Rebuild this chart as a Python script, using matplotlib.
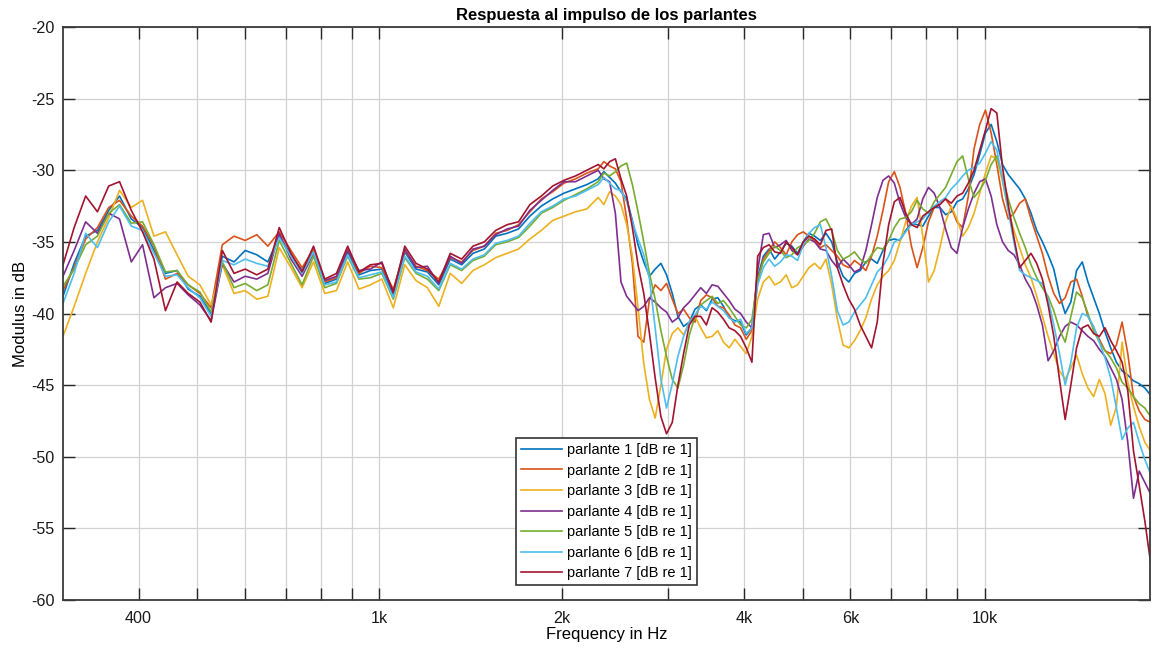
import numpy as np
import matplotlib
matplotlib.use("Agg")
import matplotlib.pyplot as plt
from matplotlib.ticker import FixedLocator, FixedFormatter, NullFormatter

plt.rcParams['font.family'] = ['Liberation Sans', 'DejaVu Sans']
plt.rcParams['axes.unicode_minus'] = False

# Analysis frequencies (1/16-octave steps from 300 Hz)
freq_hz = [300, 313, 327, 342, 357, 372, 389, 406, 424, 443, 463, 483, 505, 527,
           550, 575, 600, 627, 654, 683, 714, 745, 778, 812, 849, 886, 925, 966,
           1009, 1054, 1101, 1149, 1200, 1253, 1309, 1367, 1427, 1490, 1556, 1625,
           1697, 1772, 1851, 1933, 2018, 2108, 2201, 2298, 2400, 2506, 2617, 2733,
           2854, 2980, 3112, 3250, 3394, 3544, 3701, 3865, 4036, 4215, 4402, 4597,
           4800, 5013, 5235, 5466, 5708, 5961, 6225, 6501, 6789, 7089, 7403, 7731,
           8073, 8431, 8804, 9194, 9601, 10026, 10470, 10934, 11418, 11924, 12452,
           13003, 13578, 14180, 14807, 15463, 16147, 16862, 17609, 18388, 19200]

# Extra in-between frequencies above 2.3 kHz, where the responses are most ragged
freq_mid_hz = [2348, 2453, 2561, 2674, 2793, 2917, 3046,
               3180, 3321, 3468, 3622, 3782, 3950, 4124,
               4307, 4498, 4698, 4905, 5123, 5350, 5586,
               5833, 6092, 6361, 6643, 6938, 7244, 7565,
               7900, 8250, 8616, 8997, 9395, 9811, 10246,
               10699, 11173, 11668, 12185, 12725, 13288, 13875,
               14490, 15131, 15802, 16501, 17231, 17995, 18791]

# Magnitude of each loudspeaker response, dB re 1
parlante_1 = [-38.8, -36.5, -34.6, -34.2, -32.8, -31.8, -33.4, -34.0, -35.6, -37.2, -37.0, -38.3,
              -38.8, -40.0, -36.0, -36.4, -35.6, -35.9, -36.4, -34.6, -35.9, -37.0, -35.6, -37.9,
              -37.6, -35.7, -37.3, -37.0, -36.9, -38.7, -35.7, -36.9, -37.1, -38.0, -36.2, -36.6,
              -35.8, -35.5, -34.6, -34.4, -34.1, -33.2, -32.5, -32.0, -31.6, -31.3, -31.0, -30.6,
              -30.5, -31.5, -33.5, -36.4, -36.9, -37.3, -40.2, -40.6, -39.4, -39.0, -39.5, -40.5,
              -41.5, -37.5, -35.5, -35.7, -35.3, -35.0, -34.6, -34.4, -36.4, -37.8, -37.0, -36.2,
              -35.6, -34.8, -34.2, -33.8, -33.2, -32.6, -32.9, -32.0, -30.3, -27.4, -28.0, -30.3,
              -31.3, -33.0, -35.0, -36.9, -40.0, -37.0, -37.8, -40.0, -42.4, -44.0, -44.7, -45.2,
              -46.1]
parlante_2 = [-38.4, -36.8, -34.8, -34.0, -32.6, -32.1, -33.2, -33.9, -35.3, -37.6, -37.2, -38.0,
              -38.6, -39.6, -35.2, -34.6, -34.9, -34.5, -35.3, -34.3, -35.6, -36.8, -35.5, -37.8,
              -37.5, -35.5, -37.2, -36.7, -36.8, -38.3, -35.6, -36.7, -37.0, -37.6, -36.1, -36.4,
              -35.6, -35.3, -34.4, -34.2, -33.8, -32.9, -32.0, -31.5, -30.9, -30.6, -30.2, -29.9,
              -29.7, -30.8, -36.5, -42.0, -38.0, -37.9, -40.0, -40.3, -39.1, -38.9, -39.6, -40.8,
              -41.8, -37.8, -35.6, -35.4, -35.0, -34.3, -34.9, -35.2, -36.0, -36.8, -36.6, -36.0,
              -32.8, -30.1, -33.0, -36.8, -33.6, -32.2, -32.6, -34.0, -28.5, -25.8, -29.6, -33.4,
              -32.3, -33.4, -35.8, -38.6, -38.9, -37.6, -40.2, -41.8, -42.8, -40.6, -45.8, -47.4,
              -48.0]
parlante_3 = [-41.6, -39.5, -37.2, -35.0, -33.3, -31.4, -32.6, -32.1, -34.6, -34.3, -35.9, -37.4,
              -38.0, -39.4, -36.6, -38.6, -38.4, -39.0, -38.8, -35.4, -36.8, -38.2, -36.4, -38.6,
              -38.4, -36.4, -38.3, -38.0, -37.6, -39.6, -36.6, -37.7, -38.2, -39.5, -37.2, -37.9,
              -37.0, -36.6, -36.1, -35.8, -35.5, -34.8, -34.2, -33.5, -33.2, -32.9, -32.7, -31.9,
              -31.5, -32.4, -36.0, -43.5, -47.3, -42.5, -41.0, -40.6, -41.0, -41.6, -42.0, -41.8,
              -42.8, -39.0, -37.4, -37.8, -38.2, -37.4, -36.5, -36.2, -40.4, -42.4, -41.2, -39.0,
              -37.4, -36.3, -33.6, -31.9, -37.8, -35.4, -32.5, -34.6, -33.0, -30.2, -29.2, -32.8,
              -35.4, -37.5, -40.2, -42.8, -44.6, -42.9, -45.2, -44.6, -47.8, -42.0, -46.5, -49.0,
              -50.5]
parlante_4 = [-37.4, -35.6, -33.6, -34.4, -33.0, -33.4, -36.4, -35.2, -38.9, -38.2, -37.9, -38.7,
              -39.4, -40.5, -36.5, -37.8, -37.4, -37.6, -37.2, -34.4, -36.2, -37.4, -35.8, -37.7,
              -37.4, -35.6, -37.0, -36.9, -36.4, -38.6, -35.5, -36.8, -36.7, -37.9, -36.0, -36.5,
              -35.5, -35.3, -34.5, -34.1, -33.9, -32.8, -32.1, -31.4, -30.8, -30.8, -30.4, -30.0,
              -30.8, -37.8, -39.3, -39.5, -39.2, -39.9, -40.3, -39.2, -38.2, -38.0, -38.6, -39.7,
              -40.6, -37.0, -34.4, -35.2, -35.6, -35.3, -35.0, -35.6, -36.8, -36.6, -36.9, -33.8,
              -30.7, -30.9, -33.3, -33.4, -31.2, -32.6, -35.4, -34.0, -31.6, -30.6, -33.8, -35.6,
              -36.6, -38.3, -40.8, -42.6, -40.9, -40.8, -41.6, -42.5, -43.8, -46.0, -52.9, -51.8,
              -53.8]
parlante_5 = [-38.1, -36.9, -35.2, -34.6, -33.0, -32.4, -33.7, -33.6, -35.2, -37.1, -37.0, -38.0,
              -38.5, -39.9, -36.4, -38.2, -37.9, -38.4, -38.0, -34.9, -36.5, -38.0, -36.0, -38.2,
              -37.9, -36.0, -37.6, -37.5, -37.2, -39.0, -36.1, -37.2, -37.6, -38.4, -36.6, -37.0,
              -36.3, -36.0, -35.2, -35.0, -34.7, -33.9, -33.0, -32.6, -32.1, -31.7, -31.3, -30.8,
              -30.4, -29.7, -31.0, -35.0, -39.0, -43.0, -45.2, -41.5, -39.4, -38.8, -39.1, -40.2,
              -41.0, -37.6, -35.8, -35.6, -35.9, -35.2, -34.4, -33.4, -35.6, -36.0, -36.2, -35.9,
              -35.5, -34.0, -33.3, -32.1, -33.0, -31.7, -30.3, -29.0, -31.9, -30.7, -29.0, -32.0,
              -34.4, -36.6, -38.2, -39.8, -42.0, -38.5, -40.0, -42.0, -43.1, -44.8, -45.8, -46.6,
              -47.8]
parlante_6 = [-39.3, -37.2, -34.4, -35.4, -33.6, -32.5, -33.9, -34.2, -35.8, -37.4, -37.3, -38.2,
              -38.9, -40.2, -36.3, -36.6, -36.2, -36.5, -36.7, -34.7, -36.0, -37.2, -35.7, -38.0,
              -37.8, -35.9, -37.5, -37.3, -37.1, -38.9, -36.0, -37.1, -37.4, -38.3, -36.5, -36.9,
              -36.2, -35.9, -35.1, -34.9, -34.6, -33.7, -32.9, -32.5, -32.0, -31.8, -31.4, -31.0,
              -30.9, -31.4, -33.6, -35.9, -41.0, -46.6, -43.0, -40.6, -39.5, -39.2, -39.8, -40.6,
              -41.4, -38.0, -36.2, -36.4, -36.0, -35.2, -34.0, -35.4, -39.8, -40.6, -39.4, -38.0,
              -36.7, -35.0, -34.3, -33.6, -32.9, -32.2, -31.3, -30.4, -29.8, -28.8, -28.6, -32.8,
              -37.0, -37.5, -37.9, -40.8, -45.0, -41.0, -40.2, -42.0, -44.5, -48.8, -47.6, -50.2,
              -52.6]
parlante_7 = [-36.6, -34.0, -31.8, -32.9, -31.1, -30.8, -32.8, -34.3, -36.2, -39.8, -37.8, -38.6,
              -39.2, -40.6, -35.6, -37.2, -36.9, -37.3, -36.9, -34.0, -35.8, -37.1, -35.3, -37.6,
              -37.2, -35.3, -37.1, -36.6, -36.5, -38.5, -35.3, -36.5, -36.9, -37.8, -35.8, -36.2,
              -35.3, -35.0, -34.2, -33.8, -33.6, -32.4, -31.8, -31.1, -30.7, -30.4, -30.0, -29.6,
              -29.4, -30.6, -34.0, -38.6, -44.5, -48.4, -45.0, -40.8, -40.2, -39.6, -40.4, -41.2,
              -42.4, -36.0, -35.2, -35.8, -35.4, -35.0, -34.8, -34.2, -36.8, -39.0, -40.8, -42.4,
              -36.5, -32.2, -33.0, -34.0, -32.9, -32.4, -32.3, -31.6, -30.0, -27.2, -26.0, -32.4,
              -36.8, -35.8, -37.6, -41.6, -47.4, -42.4, -40.8, -41.6, -41.9, -43.4, -49.6, -54.5,
              -60.5]

# Values at the in-between frequencies (freq_mid_hz)
parlante_1_mid = [-30.1, -30.9, -32.0, -35.2, -37.4, -36.5, -38.6,
                  -40.9, -39.7, -39.8, -38.9, -40.3, -40.6, -41.0,
                  -36.0, -36.2, -35.1, -35.8, -34.4, -34.9, -35.0,
                  -37.4, -37.2, -36.4, -36.5, -34.9, -34.9, -33.7,
                  -33.9, -32.6, -33.1, -32.2, -31.3, -28.9, -26.8,
                  -29.6, -30.8, -32.0, -34.2, -35.9, -38.7, -39.2,
                  -36.4, -38.9, -41.3, -43.4, -44.3, -44.9, -45.7]
parlante_2_mid = [-29.4, -29.9, -33.4, -41.6, -39.0, -38.4, -39.0,
                  -39.7, -40.6, -38.7, -39.5, -40.1, -41.0, -41.2,
                  -36.2, -35.0, -35.9, -34.5, -34.6, -35.4, -35.6,
                  -36.6, -36.3, -37.0, -34.6, -30.8, -31.2, -35.3,
                  -35.4, -32.6, -32.0, -33.6, -31.8, -26.8, -27.4,
                  -32.0, -33.0, -32.0, -34.6, -37.4, -39.3, -37.8,
                  -38.8, -41.0, -42.6, -42.2, -42.8, -46.8, -47.6]
parlante_3_mid = [-32.4, -31.8, -33.8, -39.6, -46.0, -45.0, -41.4,
                  -41.5, -40.2, -41.7, -41.2, -42.4, -42.3, -41.6,
                  -37.8, -38.0, -37.3, -38.0, -36.8, -36.9, -38.0,
                  -42.2, -41.9, -40.3, -38.0, -37.0, -35.0, -32.5,
                  -34.6, -37.0, -33.6, -33.4, -34.0, -31.6, -29.0,
                  -30.8, -34.2, -36.6, -38.8, -41.6, -44.0, -43.8,
                  -44.2, -45.8, -45.6, -46.5, -44.8, -47.9, -49.6]
parlante_4_mid = [-30.6, -33.0, -38.8, -39.8, -38.9, -39.6, -40.6,
                  -39.6, -38.7, -38.6, -38.1, -39.1, -40.0, -41.0,
                  -34.5, -35.4, -34.9, -35.9, -34.8, -35.5, -36.3,
                  -36.2, -37.1, -35.6, -31.9, -30.4, -32.3, -33.8,
                  -32.0, -31.6, -34.1, -35.8, -32.7, -30.8, -31.8,
                  -35.0, -35.9, -37.6, -39.4, -43.3, -41.6, -40.6,
                  -41.2, -41.9, -43.0, -44.6, -49.0, -51.0, -52.6]
parlante_5_mid = [-30.2, -30.1, -29.5, -32.9, -37.2, -41.2, -44.6,
                  -43.6, -40.2, -39.1, -39.3, -39.6, -40.8, -40.4,
                  -36.4, -35.3, -36.1, -35.4, -34.9, -33.6, -34.2,
                  -36.2, -35.7, -36.5, -35.4, -34.9, -33.4, -32.9,
                  -32.7, -32.2, -31.2, -29.4, -30.6, -31.4, -29.6,
                  -30.5, -33.3, -35.4, -37.5, -38.8, -41.1, -40.2,
                  -38.9, -41.2, -42.6, -43.8, -45.2, -46.3, -47.2]
parlante_6_mid = [-30.5, -31.3, -32.2, -34.8, -37.6, -44.6, -44.9,
                  -41.6, -40.1, -39.7, -39.5, -40.3, -40.4, -41.0,
                  -36.8, -36.7, -35.9, -36.3, -34.4, -33.8, -37.4,
                  -40.8, -39.9, -38.9, -37.1, -36.0, -34.8, -33.8,
                  -33.4, -32.5, -31.9, -30.9, -30.0, -29.5, -28.0,
                  -30.6, -35.0, -37.3, -37.7, -39.0, -42.8, -43.4,
                  -40.0, -40.9, -43.1, -46.6, -48.0, -49.0, -51.2]
parlante_7_mid = [-29.9, -29.2, -31.8, -36.6, -41.4, -47.2, -47.6,
                  -42.8, -40.2, -40.8, -39.9, -41.0, -41.6, -43.4,
                  -35.4, -35.7, -35.0, -35.9, -34.6, -35.2, -34.1,
                  -38.0, -39.7, -41.6, -40.6, -33.8, -31.9, -33.8,
                  -33.2, -32.6, -32.0, -31.8, -30.9, -28.6, -25.7,
                  -29.8, -34.7, -36.3, -36.5, -39.4, -44.6, -45.0,
                  -41.0, -41.4, -41.0, -42.6, -45.4, -52.0, -57.4]

series = [parlante_1, parlante_2, parlante_3, parlante_4, parlante_5, parlante_6, parlante_7]
series_mid = [parlante_1_mid, parlante_2_mid, parlante_3_mid, parlante_4_mid,
              parlante_5_mid, parlante_6_mid, parlante_7_mid]
labels = [f"parlante {i} [dB re 1]" for i in range(1, 8)]
colors = ['#0072BD', '#D95319', '#EDB120', '#7E2F8E', '#77AC30', '#4DBEEE', '#A2142F']

major_ticks = [400, 1000, 2000, 4000, 6000, 10000]
major_labels = ['400', '1k', '2k', '4k', '6k', '10k']
minor_ticks = [500, 600, 700, 800, 900, 3000, 5000, 7000, 8000, 9000]

# merge both frequency sets into one ascending axis
f_all = np.array(freq_hz + freq_mid_hz, dtype=float)
order = np.argsort(f_all)
f_sorted = f_all[order]

fig = plt.figure(figsize=(11.52, 6.5), dpi=100)
ax = fig.add_axes([63 / 1152, 50 / 650, 1087 / 1152, 573 / 650])

for vals, mids, lab, col in zip(series, series_mid, labels, colors):
    v = np.array(vals + mids)[order]
    ax.semilogx(f_sorted, v, color=col, lw=1.2, label=lab)

ax.set_xlim(300, 18750)
ax.set_ylim(-60, -20)
ax.xaxis.set_major_locator(FixedLocator(major_ticks))
ax.xaxis.set_major_formatter(FixedFormatter(major_labels))
ax.xaxis.set_minor_locator(FixedLocator(minor_ticks))
ax.xaxis.set_minor_formatter(NullFormatter())
ax.set_yticks([-60, -55, -50, -45, -40, -35, -30, -25, -20])

ax.grid(which='both', axis='x', color='#d2d2d2', lw=0.9)
ax.grid(which='major', axis='y', color='#d2d2d2', lw=0.9)
ax.set_axisbelow(True)

ax.tick_params(which='both', direction='in', top=True, right=True, length=8.5,
               width=1.0, color='#262626', labelsize=11.6, labelcolor='#1a1a1a')
ax.tick_params(axis='x', which='both', pad=8)
ax.tick_params(axis='y', which='both', pad=6)
for sp in ax.spines.values():
    sp.set_color('#3a3a3a')
    sp.set_linewidth(1.3)

ax.set_title('Respuesta al impulso de los parlantes', fontsize=12, fontweight='bold', pad=5)
ax.set_xlabel('Frequency in Hz', fontsize=12, labelpad=1)
ax.set_ylabel('Modulus in dB', fontsize=12, labelpad=2)

leg = ax.legend(loc='lower center', borderaxespad=1.0, fontsize=10.5, fancybox=False,
                edgecolor='#333333', framealpha=1, handlelength=2.8, handletextpad=0.4,
                labelspacing=0.45, borderpad=0.35)
leg.get_frame().set_linewidth(1.2)

fig.savefig('out.png', dpi=100)
